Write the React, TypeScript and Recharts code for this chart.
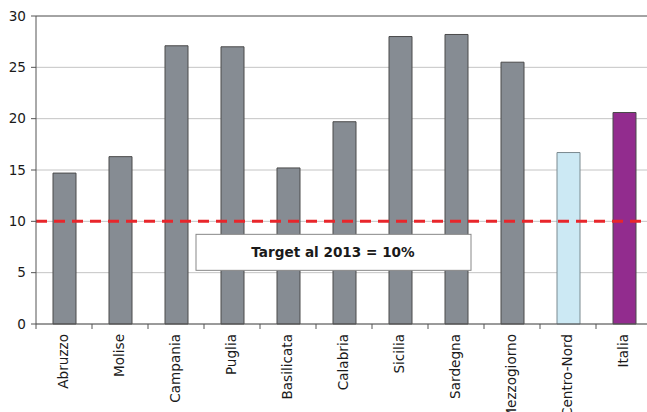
import React from 'react';
import { BarChart, Bar, XAxis, YAxis, CartesianGrid, ReferenceLine, Cell } from 'recharts';

const regions = ['Abruzzo', 'Molise', 'Campania', 'Puglia', 'Basilicata', 'Calabria', 'Sicilia', 'Sardegna', 'Mezzogiorno', 'Centro-Nord', 'Italia'];
const values = [14.7, 16.3, 27.1, 27.0, 15.2, 19.7, 28.0, 28.2, 25.5, 16.7, 20.6];
const yTicks = [0, 5, 10, 15, 20, 25, 30];
const target = 10;
const targetLabel = 'Target al 2013 = 10%';

const data = regions.map((name, i) => ({ name, value: values[i] }));

const FONT = '"DejaVu Sans", Verdana, sans-serif';

const barFill = (name: string) => {
  if (name === 'Centro-Nord') return '#CCE9F4';
  if (name === 'Italia') return '#922C8E';
  return '#868C93';
};

// tick marks sit between categories, like the original spreadsheet chart
const XTick = ({ x, y, payload }: any) => {
  const half = 28;
  return (
    <g>
      <line x1={x - half} y1={y - 8} x2={x - half} y2={y - 3} stroke="#555" />
      <text
        x={0}
        y={0}
        transform={`translate(${x + 4},${y + 2}) rotate(-90)`}
        textAnchor="end"
        fontSize={13.6}
        fontFamily={FONT}
        fill="#1a1a1a"
      >
        {payload.value}
      </text>
    </g>
  );
};

const TargetBox = ({ viewBox }: any) => {
  const { x, y } = viewBox;
  return (
    <g>
      <rect x={x + 160} y={y + 13} width={275} height={36} fill="#fff" stroke="#888" strokeWidth={1} />
      <text
        x={x + 160 + 137}
        y={y + 13 + 23}
        textAnchor="middle"
        fontSize={13.6}
        fontWeight="bold"
        fontFamily={FONT}
        fill="#1a1a1a"
      >
        {targetLabel}
      </text>
    </g>
  );
};

export default function App() {
  return (
    <div style={{ width: 647, height: 412, overflow: 'hidden', background: '#fff' }}>
      <style>{'body{margin:0}'}</style>
      <BarChart
        width={652}
        height={412}
        data={data}
        margin={{ top: 16, right: 0, bottom: 0, left: 0 }}
        barSize={23}
      >
        <CartesianGrid vertical={false} stroke="#c4c4c4" />
        <XAxis
          dataKey="name"
          height={88}
          interval={0}
          tickLine={false}
          stroke="#555"
          tick={<XTick />}
        />
        <YAxis
          width={36}
          domain={[0, 30]}
          ticks={yTicks}
          interval={0}
          tickSize={5}
          tickMargin={5}
          stroke="#555"
          tick={{ fontSize: 13.6, fontFamily: FONT, fill: '#1a1a1a' }}
        />
        <ReferenceLine y={30} stroke="#666" />
        <Bar dataKey="value" stroke="#4a4a4a" strokeWidth={1} isAnimationActive={false}>
          {data.map((d) => (
            <Cell key={d.name} fill={barFill(d.name)} stroke={d.name === 'Centro-Nord' ? '#7a8a90' : '#4a4a4a'} />
          ))}
        </Bar>
        <ReferenceLine
          y={target}
          stroke="#E8262B"
          strokeWidth={3}
          strokeDasharray="11 7"
          label={<TargetBox />}
        />
      </BarChart>
    </div>
  );
}
